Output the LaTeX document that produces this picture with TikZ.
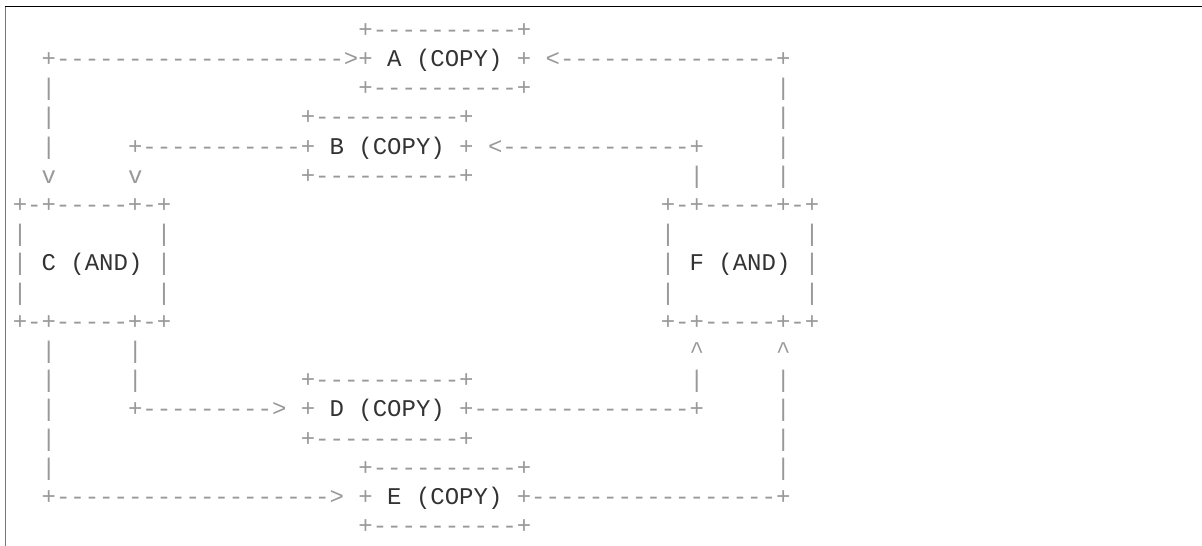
\documentclass[tikz,border=0pt]{standalone}
\usepackage{fontspec}
\newfontfamily\asciifont{Liberation Mono}
\definecolor{linegray}{HTML}{999999}
\definecolor{labeldark}{HTML}{333333}
\definecolor{framegray}{HTML}{777777}
\newcommand{\lbl}[1]{\textcolor{labeldark}{#1}}
\newcommand{\caret}{\char`\^}
\tikzset{
  ascii/.style={anchor=base west, inner sep=0pt, outer sep=0pt,
    font=\asciifont\fontsize{24}{29}\selectfont, text=linegray},
}
% column c, row r -> position
\newcommand{\seg}[4]{\node[ascii] (#1) at ({12.8pt+14.4pt*#2},{-37.3pt-29.2pt*(#3-1)}) {#4};}
\begin{document}
\begin{tikzpicture}[x=1pt,y=1pt]
\useasboundingbox (0,0) rectangle (1202,-546);
% frame
\draw[framegray, line width=1.6pt] (5.5,-6) -- (5.5,-546);
\draw[black, line width=1pt] (5,-6) -- (1202,-6);
% box A (rows 1-3, cols 24-35)
\seg{Atop}{24}{1}{+----------+}
\seg{Amid}{24}{2}{+ \lbl{A (COPY)} +}
\seg{Abot}{24}{3}{+----------+}
% box B (rows 4-6, cols 20-31)
\seg{Btop}{20}{4}{+----------+}
\seg{Bmid}{20}{5}{+ \lbl{B (COPY)} +}
\seg{Bbot}{20}{6}{+----------+}
% box C (rows 7-11, cols 0-10)
\seg{Ctop}{0}{7}{+-+-----+-+}
\seg{Cl1}{0}{8}{|}\seg{Cr1}{10}{8}{|}
\seg{Cmid}{0}{9}{| \lbl{C (AND)} |}
\seg{Cl2}{0}{10}{|}\seg{Cr2}{10}{10}{|}
\seg{Cbot}{0}{11}{+-+-----+-+}
% box F (rows 7-11, cols 45-55)
\seg{Ftop}{45}{7}{+-+-----+-+}
\seg{Fl1}{45}{8}{|}\seg{Fr1}{55}{8}{|}
\seg{Fmid}{45}{9}{| \lbl{F (AND)} |}
\seg{Fl2}{45}{10}{|}\seg{Fr2}{55}{10}{|}
\seg{Fbot}{45}{11}{+-+-----+-+}
% box D (rows 13-15, cols 20-31)
\seg{Dtop}{20}{13}{+----------+}
\seg{Dmid}{20}{14}{+ \lbl{D (COPY)} +}
\seg{Dbot}{20}{15}{+----------+}
% box E (rows 16-18, cols 24-35)
\seg{Etop}{24}{16}{+----------+}
\seg{Emid}{24}{17}{+ \lbl{E (COPY)} +}
\seg{Ebot}{24}{18}{+----------+}
% connector E -> C (outer left), C -> A
\seg{ca1}{2}{2}{+-------------------->}
\seg{ca2}{2}{3}{|}
\seg{ca3}{2}{4}{|}
\seg{ca4}{2}{5}{|}
\seg{ca5}{2}{6}{v}
% connector B -> C
\seg{bc1}{8}{5}{+-----------}
\seg{bc2}{8}{6}{v}
% connector C -> E
\seg{ce1}{2}{12}{|}
\seg{ce2}{2}{13}{|}
\seg{ce3}{2}{14}{|}
\seg{ce4}{2}{15}{|}
\seg{ce5}{2}{16}{|}
\seg{ce6}{2}{17}{+------------------->}
% connector C -> D
\seg{cd1}{8}{12}{|}
\seg{cd2}{8}{13}{|}
\seg{cd3}{8}{14}{+--------->}
% connector F -> A
\seg{fa1}{37}{2}{<---------------+}
\seg{fa2}{53}{3}{|}
\seg{fa3}{53}{4}{|}
\seg{fa4}{53}{5}{|}
\seg{fa5}{53}{6}{|}
% connector F -> B
\seg{fb1}{33}{5}{<-------------+}
\seg{fb2}{47}{6}{|}
% connector D -> F
\seg{df1}{47}{12}{\caret}
\seg{df2}{47}{13}{|}
\seg{df3}{32}{14}{---------------+}
% connector E -> F
\seg{ef1}{53}{12}{\caret}
\seg{ef2}{53}{13}{|}
\seg{ef3}{53}{14}{|}
\seg{ef4}{53}{15}{|}
\seg{ef5}{53}{16}{|}
\seg{ef6}{36}{17}{-----------------+}
\end{tikzpicture}
\end{document}
